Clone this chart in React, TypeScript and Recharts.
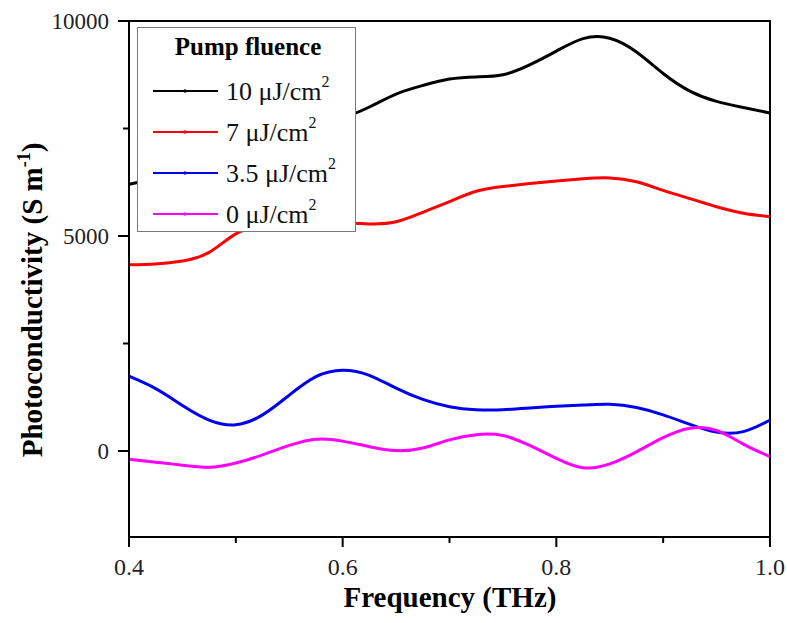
import React from "react";
import {
  LineChart,
  Line,
  XAxis,
  YAxis,
  Legend,
  ReferenceArea,
} from "recharts";

// Frequency (THz), sampled every 0.025
const FREQ = [
  0.4, 0.425, 0.45, 0.475, 0.5, 0.525, 0.55, 0.575, 0.6, 0.625, 0.65, 0.675,
  0.7, 0.725, 0.75, 0.775, 0.8, 0.825, 0.85, 0.875, 0.9, 0.925, 0.95, 0.975, 1.0,
];

// Photoconductivity (S m^-1) per pump fluence
const S_10 = [
  6200, 6350, 6550, 6800, 7050, 7250, 7450, 7600, 7750, 8000, 8300, 8500,
  8650, 8700, 8750, 8980, 9300, 9590, 9600, 9280, 8780, 8370, 8130, 7990, 7860,
];
const S_7 = [
  4330, 4350, 4420, 4620, 5050, 5250, 5330, 5340, 5310, 5280, 5330, 5550,
  5800, 6040, 6150, 6220, 6280, 6330, 6350, 6260, 6060, 5870, 5680, 5530, 5450,
];
const S_35 = [
  1740, 1450, 1060, 720, 610, 840, 1300, 1730, 1880, 1760, 1460, 1200,
  1030, 960, 960, 1000, 1040, 1070, 1085, 1010, 840, 620, 440, 450, 720,
];
const S_0 = [
  -190, -260, -330, -380, -280, -90, 130, 275, 230, 100, 10, 70,
  260, 380, 360, 130, -170, -390, -300, -20, 310, 530, 480, 160, -130,
];

const X_TICKS = [0.4, 0.5, 0.6, 0.7, 0.8, 0.9, 1.0];
const Y_TICKS = [0, 2500, 5000, 7500, 10000];
const Y_LABELED = [0, 5000, 10000];

const SERIES = [
  { key: "s10", name: "10 μJ/cm", color: "#000000" },
  { key: "s7", name: "7 μJ/cm", color: "#ff0000" },
  { key: "s35", name: "3.5 μJ/cm", color: "#0000ee" },
  { key: "s0", name: "0 μJ/cm", color: "#ff00ff" },
];

const data = FREQ.map((f, i) => ({
  f,
  s10: S_10[i],
  s7: S_7[i],
  s35: S_35[i],
  s0: S_0[i],
}));

const FONT = "Liberation Serif";

function XTick({ x, y, payload }: any) {
  const v = payload.value as number;
  const major = Math.round(v * 10) % 2 === 0;
  return (
    <g>
      <line x1={x} x2={x} y1={y} y2={y + (major ? 10 : 6)} stroke="#000" strokeWidth={2} />
      {major && (
        <text x={x} y={y + 38} textAnchor="middle" fontFamily={FONT} fontSize={24} fill="#222">
          {v.toFixed(1)}
        </text>
      )}
    </g>
  );
}

function YTick({ x, y, payload }: any) {
  const v = payload.value as number;
  const major = Y_LABELED.includes(v);
  return (
    <g>
      <line x1={x - (major ? 11 : 6)} x2={x} y1={y} y2={y} stroke="#000" strokeWidth={2} />
      {major && (
        <text x={x - 20} y={y} dy="0.35em" textAnchor="end" fontFamily={FONT} fontSize={23} fill="#222">
          {v}
        </text>
      )}
    </g>
  );
}

function LegendBox() {
  return (
    <svg width={220} height={206} style={{ display: "block" }}>
      <rect x={0.5} y={0.5} width={218} height={204} fill="#fff" stroke="#7a7a7a" strokeWidth={1} />
      <text x={111} y={28} textAnchor="middle" fontFamily={FONT} fontWeight="bold" fontSize={25}>
        Pump fluence
      </text>
      {SERIES.map((s, i) => {
        const cy = 64 + i * 41;
        return (
          <g key={s.key}>
            <line x1={16} x2={81} y1={cy} y2={cy} stroke={s.color} strokeWidth={2} />
            <circle cx={48} cy={cy} r={1.8} fill={s.color} />
            <text x={89} y={cy + 9} fontFamily={FONT} fontSize={26} fill="#111">
              {s.name}
              <tspan dy={-13} fontSize={16}>2</tspan>
            </text>
          </g>
        );
      })}
    </svg>
  );
}

export default function App() {
  return (
    <div style={{ position: "absolute", left: 0, top: 0, width: 787, height: 623, background: "#fff" }}>
      <LineChart
        width={787}
        height={623}
        data={data}
        margin={{ top: 21, right: 17, bottom: 0, left: 0 }}
      >
        <XAxis
          type="number"
          dataKey="f"
          domain={[0.4, 1.0]}
          ticks={X_TICKS}
          allowDataOverflow
          tick={<XTick />}
          tickLine={false}
          tickSize={0}
          tickMargin={0}
          height={86}
          axisLine={{ stroke: "#000", strokeWidth: 2 }}
          interval={0}
        />
        <YAxis
          type="number"
          domain={[-2000, 10000]}
          ticks={Y_TICKS}
          allowDataOverflow
          tick={<YTick />}
          tickLine={false}
          tickSize={0}
          tickMargin={0}
          width={129}
          axisLine={{ stroke: "#000", strokeWidth: 2 }}
          interval={0}
        />
        {SERIES.map((s) => (
          <Line
            key={s.key}
            type="natural"
            dataKey={s.key}
            name={s.name}
            stroke={s.color}
            strokeWidth={3}
            dot={false}
            isAnimationActive={false}
          />
        ))}
        <ReferenceArea
          x1={0.4}
          x2={1.0}
          y1={-2000}
          y2={10000}
          fill="none"
          fillOpacity={0}
          stroke="#000"
          strokeWidth={2}
          ifOverflow="visible"
        />
        <Legend
          layout="vertical"
          align="center"
          verticalAlign="middle"
          content={() => <LegendBox />}
          wrapperStyle={{ left: 137, top: 27, width: 220, height: 206, right: "auto", bottom: "auto" }}
        />
        <text
          x={450}
          y={607}
          textAnchor="middle"
          fontFamily={FONT}
          fontWeight="bold"
          fontSize={29}
        >
          Frequency (THz)
        </text>
        <text
          transform="translate(42,300) rotate(-90)"
          textAnchor="middle"
          fontFamily={FONT}
          fontWeight="bold"
          fontSize={29}
        >
          Photoconductivity (S m<tspan dy={-12} fontSize={18}>-1</tspan>
          <tspan dy={12}>)</tspan>
        </text>
      </LineChart>
    </div>
  );
}
